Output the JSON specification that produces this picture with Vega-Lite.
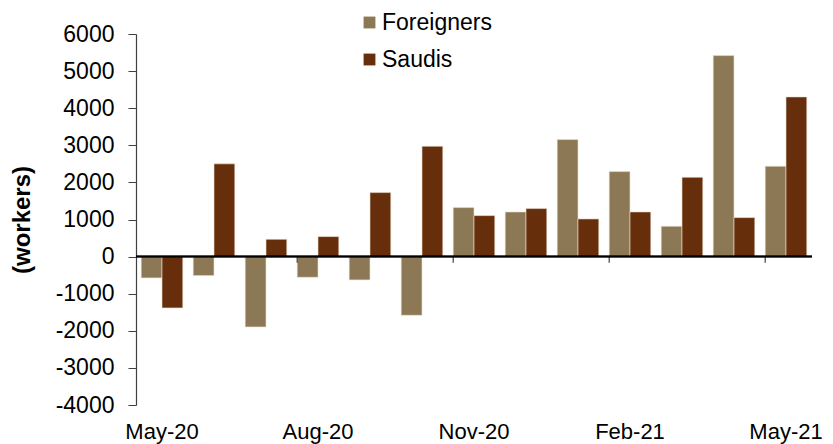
{
  "$schema": "https://vega.github.io/schema/vega-lite/v6.json",
  "width": 676,
  "height": 371,
  "autosize": {"type": "none"},
  "padding": {"left": 136, "top": 34, "right": 21, "bottom": 39},
  "background": "white",
  "config": {
    "font": "Liberation Sans",
    "view": {"stroke": null}
  },
  "datasets": {
    "bars": [
      {"month": "May-20", "series": "Foreigners", "value": -575},
      {"month": "May-20", "series": "Saudis", "value": -1384},
      {"month": "Jun-20", "series": "Foreigners", "value": -512},
      {"month": "Jun-20", "series": "Saudis", "value": 2500},
      {"month": "Jul-20", "series": "Foreigners", "value": -1896},
      {"month": "Jul-20", "series": "Saudis", "value": 467},
      {"month": "Aug-20", "series": "Foreigners", "value": -557},
      {"month": "Aug-20", "series": "Saudis", "value": 539},
      {"month": "Sep-20", "series": "Foreigners", "value": -629},
      {"month": "Sep-20", "series": "Saudis", "value": 1725},
      {"month": "Oct-20", "series": "Foreigners", "value": -1581},
      {"month": "Oct-20", "series": "Saudis", "value": 2974},
      {"month": "Nov-20", "series": "Foreigners", "value": 1321},
      {"month": "Nov-20", "series": "Saudis", "value": 1105},
      {"month": "Dec-20", "series": "Foreigners", "value": 1204},
      {"month": "Dec-20", "series": "Saudis", "value": 1294},
      {"month": "Jan-21", "series": "Foreigners", "value": 3154},
      {"month": "Jan-21", "series": "Saudis", "value": 1015},
      {"month": "Feb-21", "series": "Foreigners", "value": 2291},
      {"month": "Feb-21", "series": "Saudis", "value": 1204},
      {"month": "Mar-21", "series": "Foreigners", "value": 818},
      {"month": "Mar-21", "series": "Saudis", "value": 2138},
      {"month": "Apr-21", "series": "Foreigners", "value": 5418},
      {"month": "Apr-21", "series": "Saudis", "value": 1051},
      {"month": "May-21", "series": "Foreigners", "value": 2435},
      {"month": "May-21", "series": "Saudis", "value": 4304}
    ],
    "ticks": [
      {"month": "Aug-20"},
      {"month": "Nov-20"},
      {"month": "Feb-21"},
      {"month": "May-21"}
    ]
  },
  "encoding": {
    "x": {
      "field": "month",
      "type": "nominal",
      "title": null,
      "scale": {
        "domain": ["May-20", "Jun-20", "Jul-20", "Aug-20", "Sep-20", "Oct-20", "Nov-20", "Dec-20", "Jan-21", "Feb-21", "Mar-21", "Apr-21", "May-21"],
        "paddingInner": 0.2,
        "paddingOuter": 0.1
      },
      "axis": {
        "values": ["May-20", "Aug-20", "Nov-20", "Feb-21", "May-21"],
        "labelAngle": 0,
        "labelFontSize": 22,
        "labelColor": "black",
        "labelPadding": 16,
        "labelBaseline": "top",
        "ticks": false,
        "domain": false
      }
    }
  },
  "layer": [
    {
      "data": {"name": "bars"},
      "mark": {"type": "bar", "stroke": "#e9e2d4", "strokeWidth": 0.6},
      "encoding": {
        "xOffset": {"field": "series", "type": "nominal"},
        "y": {
          "field": "value",
          "type": "quantitative",
          "scale": {"domain": [-4000, 6000], "nice": false, "zero": false},
          "title": "(workers)",
          "axis": {
            "values": [-4000, -3000, -2000, -1000, 0, 1000, 2000, 3000, 4000, 5000, 6000],
            "labelExpr": "'' + datum.value",
            "labelOverlap": false,
            "grid": false,
            "domainColor": "#404040",
            "domainWidth": 1.2,
            "tickColor": "#404040",
            "tickSize": 8,
            "labelFontSize": 23,
            "labelColor": "black",
            "labelPadding": 14,
            "titleFontSize": 24,
            "titleFontWeight": "bold",
            "titleColor": "black",
            "titlePadding": 21
          }
        },
        "color": {
          "field": "series",
          "type": "nominal",
          "scale": {"domain": ["Foreigners", "Saudis"], "range": ["#8c7854", "#672e0c"]},
          "legend": {
            "title": null,
            "orient": "none",
            "legendX": 222,
            "legendY": -23,
            "symbolType": "square",
            "symbolSize": 140,
            "symbolStrokeWidth": 0,
            "labelFontSize": 23,
            "labelColor": "black",
            "labelOffset": 1,
            "rowPadding": 13
          }
        }
      }
    },
    {
      "data": {"name": "ticks"},
      "mark": {"type": "rule", "color": "#404040", "strokeWidth": 1.2},
      "encoding": {
        "x": {"field": "month", "type": "nominal", "bandPosition": 0},
        "y": {
          "datum": 0,
          "type": "quantitative",
          "title": "(workers)",
          "axis": {
            "values": [-4000, -3000, -2000, -1000, 0, 1000, 2000, 3000, 4000, 5000, 6000],
            "labelExpr": "'' + datum.value",
            "labelOverlap": false,
            "grid": false,
            "domainColor": "#404040",
            "domainWidth": 1.2,
            "tickColor": "#404040",
            "tickSize": 8,
            "labelFontSize": 23,
            "labelColor": "black",
            "labelPadding": 14,
            "titleFontSize": 24,
            "titleFontWeight": "bold",
            "titleColor": "black",
            "titlePadding": 21
          }
        },
        "y2": {"datum": -165}
      }
    },
    {
      "data": {"name": "ticks"},
      "mark": {"type": "rule", "color": "black", "strokeWidth": 1.5},
      "encoding": {
        "x": null,
        "y": {
          "datum": 0,
          "type": "quantitative",
          "title": "(workers)",
          "axis": {
            "values": [-4000, -3000, -2000, -1000, 0, 1000, 2000, 3000, 4000, 5000, 6000],
            "labelExpr": "'' + datum.value",
            "labelOverlap": false,
            "grid": false,
            "domainColor": "#404040",
            "domainWidth": 1.2,
            "tickColor": "#404040",
            "tickSize": 8,
            "labelFontSize": 23,
            "labelColor": "black",
            "labelPadding": 14,
            "titleFontSize": 24,
            "titleFontWeight": "bold",
            "titleColor": "black",
            "titlePadding": 21
          }
        }
      }
    }
  ]
}
